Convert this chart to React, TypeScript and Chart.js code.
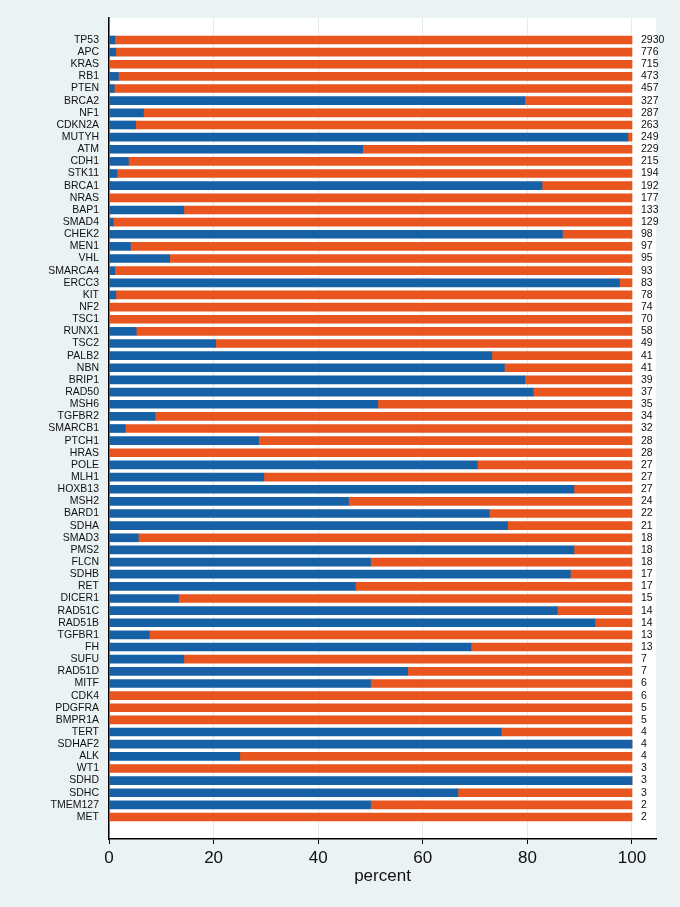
import React, { useEffect, useRef } from "react";
import { Chart, registerables } from "chart.js";

Chart.register(...registerables);

const genes = [
  "TP53", "APC", "KRAS", "RB1", "PTEN", "BRCA2", "NF1", "CDKN2A", "MUTYH", "ATM",
  "CDH1", "STK11", "BRCA1", "NRAS", "BAP1", "SMAD4", "CHEK2", "MEN1", "VHL", "SMARCA4",
  "ERCC3", "KIT", "NF2", "TSC1", "RUNX1", "TSC2", "PALB2", "NBN", "BRIP1", "RAD50",
  "MSH6", "TGFBR2", "SMARCB1", "PTCH1", "HRAS", "POLE", "MLH1", "HOXB13", "MSH2", "BARD1",
  "SDHA", "SMAD3", "PMS2", "FLCN", "SDHB", "RET", "DICER1", "RAD51C", "RAD51B", "TGFBR1",
  "FH", "SUFU", "RAD51D", "MITF", "CDK4", "PDGFRA", "BMPR1A", "TERT", "SDHAF2", "ALK",
  "WT1", "SDHD", "SDHC", "TMEM127", "MET",
];

const counts = [
  2930, 776, 715, 473, 457, 327, 287, 263, 249, 229,
  215, 194, 192, 177, 133, 129, 98, 97, 95, 93,
  83, 78, 74, 70, 58, 49, 41, 41, 39, 37,
  35, 34, 32, 28, 28, 27, 27, 27, 24, 22,
  21, 18, 18, 18, 17, 17, 15, 14, 14, 13,
  13, 7, 7, 6, 6, 5, 5, 4, 4, 4,
  3, 3, 3, 2, 2,
];

const bluePct = [
  1.1, 1.3, 0, 1.8, 1.0, 79.5, 6.6, 5.1, 99.2, 48.5,
  3.7, 1.5, 82.8, 0, 14.3, 0.8, 86.7, 4.1, 11.6, 1.1,
  97.6, 1.3, 0, 0, 5.2, 20.4, 73.2, 75.6, 79.5, 81.1,
  51.4, 8.8, 3.1, 28.6, 0, 70.4, 29.6, 88.9, 45.8, 72.7,
  76.2, 5.6, 88.9, 50.0, 88.2, 47.1, 13.3, 85.7, 92.9, 7.7,
  69.2, 14.3, 57.1, 50.0, 0, 0, 0, 75.0, 100, 25.0,
  0, 100, 66.7, 50.0, 0,
];

const orangePct = bluePct.map((v) => 100 - v);

const xTicks = [0, 20, 40, 60, 80, 100];

const BLUE = "#1660a6";
const ORANGE = "#e8551e";
const BG = "#eaf2f3";
const GRID = "#e0ebee";
const FONT = "'Liberation Sans', Arial, Helvetica, sans-serif";

export default function App() {
  const ref = useRef<HTMLCanvasElement | null>(null);

  useEffect(() => {
    document.body.style.margin = "0";
    document.body.style.background = BG;
    const canvas = ref.current;
    if (!canvas) return;

    const bgPlugin = {
      id: "bgPlugin",
      beforeDraw(chart: any) {
        const { ctx, chartArea } = chart;
        ctx.save();
        ctx.fillStyle = BG;
        ctx.fillRect(0, 0, chart.width, chart.height);
        ctx.fillStyle = "#ffffff";
        ctx.fillRect(
          chartArea.left,
          chartArea.top,
          chartArea.right - chartArea.left,
          chartArea.bottom - chartArea.top
        );
        ctx.restore();
      },
    };

    const countPlugin = {
      id: "countPlugin",
      afterDraw(chart: any) {
        const { ctx } = chart;
        const xs = chart.scales.x;
        const ys = chart.scales.y;
        ctx.save();
        ctx.font = `10.5px ${FONT}`;
        ctx.fillStyle = "#111111";
        ctx.textAlign = "left";
        ctx.textBaseline = "middle";
        const x0 = xs.getPixelForValue(100) + 9;
        counts.forEach((c, i) => {
          ctx.fillText(String(c), x0, ys.getPixelForValue(i));
        });
        ctx.restore();
      },
    };

    const chart = new Chart(canvas, {
      type: "bar",
      data: {
        datasets: [
          {
            label: "blue",
            data: genes.map((_, i) => ({ x: bluePct[i], y: i })),
            backgroundColor: BLUE,
            borderWidth: 0,
            barThickness: 8,
          },
          {
            label: "orange",
            data: genes.map((_, i) => ({ x: orangePct[i], y: i })),
            backgroundColor: ORANGE,
            borderWidth: 0,
            barThickness: 8,
          },
        ] as any,
      },
      options: {
        indexAxis: "y",
        responsive: false,
        animation: false,
        events: [],
        layout: { padding: { left: 0, right: 24, top: 18, bottom: 0 } },
        plugins: {
          legend: { display: false },
          tooltip: { enabled: false },
        },
        scales: {
          x: {
            type: "linear",
            stacked: true,
            min: 0,
            max: 104.59,
            afterBuildTicks: (scale: any) => {
              scale.ticks = xTicks.map((v) => ({ value: v }));
            },
            afterFit: (scale: any) => {
              scale.height = 68;
            },
            grid: {
              color: GRID,
              lineWidth: 1,
              tickColor: "#000000",
              tickLength: 5,
              drawTicks: true,
            },
            border: { display: true, color: "#000000", width: 1.5 },
            ticks: {
              font: { family: FONT, size: 17 },
              color: "#111111",
              padding: 4,
              maxRotation: 0,
              autoSkip: false,
            },
            title: {
              display: true,
              text: "percent",
              font: { family: FONT, size: 17 },
              color: "#111111",
              padding: { top: 0, bottom: 20 },
            },
          },
          y: {
            type: "linear",
            stacked: true,
            reverse: true,
            offset: false,
            min: -1.81,
            max: 65.81,
            afterBuildTicks: (scale: any) => {
              scale.ticks = genes.map((_, i) => ({ value: i }));
            },
            afterFit: (scale: any) => {
              scale.width = 109;
            },
            grid: { display: false, drawTicks: false, offset: false },
            border: { display: true, color: "#000000", width: 1.5 },
            ticks: {
              font: { family: FONT, size: 10.5 },
              color: "#111111",
              padding: 10,
              autoSkip: false,
              callback: (v: any) => genes[Number(v)] ?? "",
            },
          },
        },
      },
      plugins: [bgPlugin, countPlugin],
    });

    return () => {
      chart.destroy();
    };
  }, []);

  return (
    <div style={{ width: 680, height: 907, background: BG }}>
      <canvas ref={ref} width={680} height={907} style={{ display: "block" }} />
    </div>
  );
}
